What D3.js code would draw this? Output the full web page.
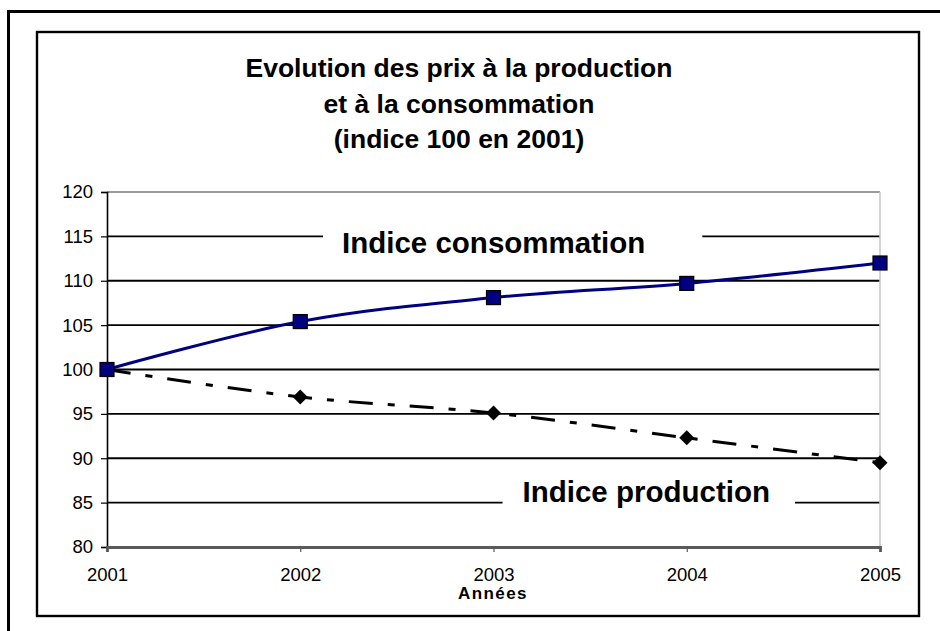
<!DOCTYPE html>
<html>
<head>
<meta charset="utf-8">
<script src="https://cdn.jsdelivr.net/npm/d3@7"></script>
<style>
  html, body { margin: 0; padding: 0; background: #fff; }
  svg { display: block; font-family: "Liberation Sans", Arial, Helvetica, sans-serif; }
</style>
</head>
<body>
<svg id="chart" width="940" height="631"></svg>
<script>
// ---------------- DATA ----------------
const years = [2001, 2002, 2003, 2004, 2005];
const consommation = [100, 105.4, 108.1, 109.7, 112.0];
const production = [100, 96.9, 95.1, 92.3, 89.5];
const yTicks = [80, 85, 90, 95, 100, 105, 110, 115, 120];
const titleLines = ["Evolution des prix à la production", "et à la consommation", "(indice 100 en 2001)"];
const xAxisTitle = "Années";
const seriesLabels = ["Indice consommation", "Indice production"];

// ---------------- LAYOUT ----------------
const W = 940, H = 631;
const plot = { left: 107, right: 880, top: 192, bottom: 547 };
const font = '"Liberation Sans", Arial, Helvetica, sans-serif';

const svg = d3.select("#chart");
svg.append("rect").attr("width", W).attr("height", H).attr("fill", "#fff");

// outer frame (extends beyond the canvas on right/bottom)
svg.append("rect").attr("x", 8.5).attr("y", 11.5).attr("width", 1200).attr("height", 1200)
  .attr("fill", "none").attr("stroke", "#000").attr("stroke-width", 3);
// inner frame
svg.append("rect").attr("x", 37).attr("y", 32).attr("width", 882).attr("height", 584)
  .attr("fill", "#fff").attr("stroke", "#000").attr("stroke-width", 2.4);

const x = d3.scaleLinear().domain([years[0], years[years.length - 1]]).range([plot.left, plot.right]);
const y = d3.scaleLinear().domain([yTicks[0], yTicks[yTicks.length - 1]]).range([plot.bottom, plot.top]);

// title
const title = svg.append("text").attr("text-anchor", "middle")
  .attr("font-weight", "bold").attr("font-size", 26.5).attr("fill", "#000");
titleLines.forEach((t, i) => {
  title.append("tspan").attr("x", 459).attr("y", 77 + i * 35.5).text(t);
});

// gridlines (interior)
const grid = svg.append("g");
grid.selectAll("line").data(yTicks.slice(1, -1)).join("line")
  .attr("x1", plot.left).attr("x2", plot.right)
  .attr("y1", d => y(d)).attr("y2", d => y(d))
  .attr("stroke", "#000").attr("stroke-width", 1.9);

// top border (gray)
svg.append("line").attr("x1", plot.left).attr("x2", plot.right)
  .attr("y1", y(yTicks[yTicks.length - 1])).attr("y2", y(yTicks[yTicks.length - 1]))
  .attr("stroke", "#999").attr("stroke-width", 2);
// right border (light gray)
svg.append("line").attr("x1", plot.right).attr("x2", plot.right)
  .attr("y1", plot.top).attr("y2", plot.bottom)
  .attr("stroke", "#c8c8c8").attr("stroke-width", 1.6);

// Y axis
const yAxis = d3.axisLeft(y).tickValues(yTicks).tickSize(6).tickPadding(8).tickFormat(d3.format("d"));
const gy = svg.append("g").attr("transform", `translate(${plot.left},0)`).call(yAxis);
gy.select(".domain").attr("stroke", "#000").attr("stroke-width", 1.6);
gy.selectAll(".tick line").attr("stroke", "#000").attr("stroke-width", 1.2);
gy.selectAll(".tick text").attr("font-size", 18.5).attr("font-family", font).attr("fill", "#000");

// X axis
const xAxis = d3.axisBottom(x).tickValues(years).tickSize(5).tickPadding(16).tickFormat(d3.format("d"));
const gx = svg.append("g").attr("transform", `translate(0,${plot.bottom})`).call(xAxis);
gx.select(".domain").attr("stroke", "#5a5a5a").attr("stroke-width", 2.8);
gx.selectAll(".tick line").attr("stroke", "#555").attr("stroke-width", 1.2);
gx.selectAll(".tick text").attr("font-size", 18.5).attr("font-family", font).attr("fill", "#000");

// x axis title
svg.append("text").attr("x", 493).attr("y", 599)
  .attr("text-anchor", "middle").attr("font-weight", "bold").attr("font-size", 17)
  .attr("letter-spacing", 1.4).attr("fill", "#000").text(xAxisTitle);

// series label boxes (white, interrupting gridlines)
const labelSpecs = [
  { text: seriesLabels[0], xText: 342, base: 252.5, padL: 19, padR: 57 },
  { text: seriesLabels[1], xText: 522.5, base: 501.5, padL: 20, padR: 25 }
];
labelSpecs.forEach(s => {
  const g = svg.append("g");
  const r = g.append("rect").attr("fill", "#fff");
  const t = g.append("text").attr("x", s.xText).attr("y", s.base)
    .attr("font-weight", "bold").attr("font-size", 29.5).attr("fill", "#000").text(s.text);
  const bb = t.node().getBBox();
  r.attr("x", bb.x - s.padL).attr("y", bb.y - 2).attr("width", bb.width + s.padL + s.padR).attr("height", bb.height + 4);
});

// lines
const consData = years.map((yr, i) => [yr, consommation[i]]);
const prodData = years.map((yr, i) => [yr, production[i]]);
const line = d3.line().x(d => x(d[0])).y(d => y(d[1])).curve(d3.curveCatmullRom.alpha(0.5));

svg.append("path").datum(prodData).attr("d", line)
  .attr("fill", "none").attr("stroke", "#000").attr("stroke-width", 3)
  .attr("stroke-dasharray", "24,15,7,15");

svg.append("path").datum(consData).attr("d", line)
  .attr("fill", "none").attr("stroke", "#000080").attr("stroke-width", 3);

// markers
svg.append("g").selectAll("path").data(prodData).join("path")
  .attr("d", d => {
    const cx = x(d[0]), cy = y(d[1]), r = 7.5;
    return `M${cx},${cy - r}L${cx + r},${cy}L${cx},${cy + r}L${cx - r},${cy}Z`;
  })
  .attr("fill", "#000");

svg.append("g").selectAll("rect").data(consData).join("rect")
  .attr("x", d => x(d[0]) - 7).attr("y", d => y(d[1]) - 7)
  .attr("width", 14).attr("height", 14)
  .attr("fill", "#000080").attr("stroke", "#000").attr("stroke-width", 1.2);
</script>
</body>
</html>
